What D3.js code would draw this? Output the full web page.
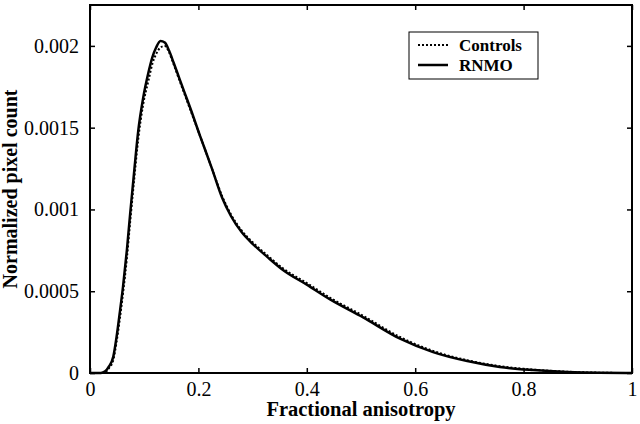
<!DOCTYPE html>
<html>
<head>
<meta charset="utf-8">
<script src="https://cdn.jsdelivr.net/npm/d3@7"></script>
<style>
  body { margin: 0; background: #fff; }
  svg text { font-family: "Liberation Serif", "DejaVu Serif", serif; }
</style>
</head>
<body>
<div id="chart"></div>
<script>
// fractional anisotropy sample points
var fa = [0, 0.02, 0.028, 0.035, 0.043, 0.049, 0.055, 0.061, 0.068, 0.074, 0.082, 0.089, 0.098,
  0.108, 0.115, 0.122, 0.13, 0.138, 0.146, 0.154, 0.165, 0.175, 0.185, 0.203, 0.225, 0.244,
  0.26, 0.28, 0.3, 0.327, 0.356, 0.4, 0.443, 0.504, 0.572, 0.633, 0.696, 0.756, 0.817, 0.88, 0.94, 1.0];

var rnmo = [0, 0, 0.00001, 0.00004, 0.0001, 0.00022, 0.00037, 0.00053, 0.00075, 0.00097, 0.00125, 0.00148, 0.00168,
  0.00184, 0.00193, 0.00199, 0.00203, 0.00202, 0.00197, 0.0019, 0.0018, 0.00171, 0.00162, 0.00145, 0.00125, 0.00107,
  0.00096, 0.00086, 0.00079, 0.00071, 0.00063, 0.00054, 0.00045, 0.00034, 0.00021, 0.000128, 0.000073, 0.000037, 0.000018, 0.000006, 0.000001, 0];

var controls = [0, 0, 0.000005, 0.00003, 0.00008, 0.00019, 0.00033, 0.00049, 0.0007, 0.00092, 0.0012, 0.00143, 0.00164,
  0.00179, 0.00189, 0.00195, 0.00199, 0.002, 0.00196, 0.00189, 0.00179, 0.0017, 0.00161, 0.00145, 0.00125, 0.00108,
  0.00097, 0.00087, 0.0008, 0.00072, 0.00064, 0.00055, 0.00046, 0.00035, 0.00022, 0.000135, 0.000078, 0.000042, 0.000021, 0.000008, 0.000002, 0];

var xTicks = [0, 0.2, 0.4, 0.6, 0.8, 1];
var yTicks = [0, 0.0005, 0.001, 0.0015, 0.002];
var xLabels = ["0", "0.2", "0.4", "0.6", "0.8", "1"];
var yLabels = ["0", "0.0005", "0.001", "0.0015", "0.002"];

var margin = { top: 5, right: 8, bottom: 51, left: 90 },
    width = 640 - margin.left - margin.right,
    height = 424 - margin.top - margin.bottom;

var svg = d3.select("#chart")
    .append("svg")
    .attr("width", 640)
    .attr("height", 424)
    .append("g")
    .attr("transform", "translate(" + margin.left + "," + margin.top + ")");

var x = d3.scaleLinear().domain([0, 1]).range([0, width]);
var y = d3.scaleLinear().domain([0, 0.00225]).range([height, 0]);

// axes with inward ticks, MATLAB style box
function styleAxis(g) {
    g.attr("font-family", null);
    g.select(".domain").remove();
    g.selectAll(".tick line").attr("stroke", "#000").attr("stroke-width", 1.5);
    g.selectAll("text").style("font-size", "20px").attr("fill", "#000");
}

svg.append("g")
    .attr("transform", "translate(0," + height + ")")
    .call(d3.axisBottom(x).tickValues(xTicks).tickSizeInner(-5).tickSizeOuter(0).tickPadding(9)
        .tickFormat(function (d, i) { return xLabels[i]; }))
    .call(styleAxis);

svg.append("g")
    .call(d3.axisTop(x).tickValues(xTicks).tickSizeInner(-5).tickSizeOuter(0).tickFormat(""))
    .call(styleAxis);

svg.append("g")
    .call(d3.axisLeft(y).tickValues(yTicks).tickSizeInner(-5).tickSizeOuter(0).tickPadding(11)
        .tickFormat(function (d, i) { return yLabels[i]; }))
    .call(styleAxis);

svg.append("g")
    .attr("transform", "translate(" + width + ",0)")
    .call(d3.axisRight(y).tickValues(yTicks).tickSizeInner(-5).tickSizeOuter(0).tickFormat(""))
    .call(styleAxis);

// curves
var line = d3.line()
    .x(function (d) { return x(d[0]); })
    .y(function (d) { return y(d[1]); })
    .curve(d3.curveMonotoneX);

svg.append("path")
    .datum(d3.zip(fa, controls))
    .attr("fill", "none")
    .attr("stroke", "#000")
    .attr("stroke-width", 2)
    .attr("stroke-dasharray", "2,2")
    .attr("d", line);

svg.append("path")
    .datum(d3.zip(fa, rnmo))
    .attr("fill", "none")
    .attr("stroke", "#000")
    .attr("stroke-width", 2.5)
    .attr("d", line);

// frame
svg.append("rect")
    .attr("width", width)
    .attr("height", height)
    .attr("fill", "none")
    .attr("stroke", "#000")
    .attr("stroke-width", 2);

// axis labels
svg.append("text")
    .attr("x", width / 2)
    .attr("y", height + 43)
    .attr("text-anchor", "middle")
    .style("font-size", "20.5px")
    .style("font-weight", "bold")
    .text("Fractional anisotropy");

svg.append("text")
    .attr("transform", "translate(" + (-73) + "," + (height / 2) + ") rotate(-90)")
    .attr("text-anchor", "middle")
    .style("font-size", "20px")
    .style("font-weight", "bold")
    .text("Normalized pixel count");

// legend
var legend = svg.append("g").attr("transform", "translate(319,27)");
legend.append("rect")
    .attr("width", 129)
    .attr("height", 47)
    .attr("fill", "#fff")
    .attr("stroke", "#000")
    .attr("stroke-width", 1);

var legendItems = ["Controls", "RNMO"];
legendItems.forEach(function (name, i) {
    var ly = 13 + i * 20;
    legend.append("line")
        .attr("x1", 9).attr("x2", 39)
        .attr("y1", ly).attr("y2", ly)
        .attr("stroke", "#000")
        .attr("stroke-width", i === 0 ? 2 : 2.5)
        .attr("stroke-dasharray", i === 0 ? "2,2" : null);
    legend.append("text")
        .attr("x", 50)
        .attr("y", ly + 6)
        .style("font-size", "17px")
        .style("font-weight", "bold")
        .text(name);
});
</script>
</body>
</html>
